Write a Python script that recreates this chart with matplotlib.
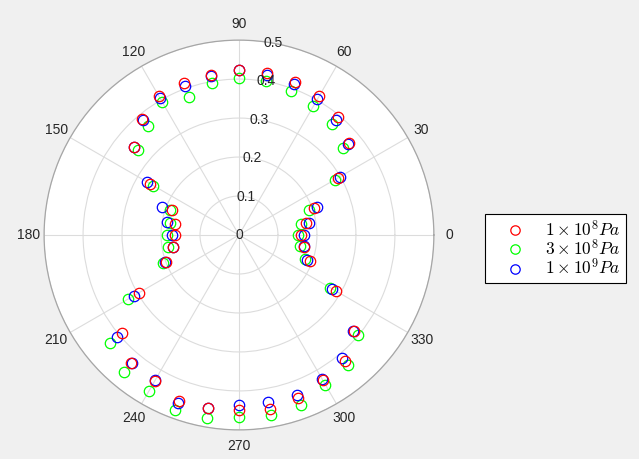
import numpy as np
import matplotlib
matplotlib.use('Agg')
import matplotlib.pyplot as plt

plt.rcParams['font.family'] = ['Liberation Sans', 'DejaVu Sans']
plt.rcParams['mathtext.fontset'] = 'cm'

angles_deg = list(range(0, 360, 10))

r_1e8 = [0.158, 0.174, 0.204, 0.293, 0.368, 0.395, 0.413, 0.418, 0.421, 0.423,
         0.417, 0.415, 0.411, 0.388, 0.353, 0.264, 0.184, 0.166, 0.164, 0.171,
         0.200, 0.297, 0.393, 0.429, 0.432, 0.452, 0.451, 0.449, 0.454, 0.445,
         0.429, 0.422, 0.384, 0.286, 0.195, 0.170]
r_3e8 = [0.151, 0.161, 0.191, 0.283, 0.348, 0.371, 0.381, 0.392, 0.400, 0.402,
         0.395, 0.378, 0.395, 0.364, 0.339, 0.254, 0.188, 0.179, 0.185, 0.184,
         0.207, 0.329, 0.432, 0.460, 0.461, 0.479, 0.477, 0.467, 0.470, 0.463,
         0.443, 0.437, 0.399, 0.271, 0.181, 0.160]
r_1e9 = [0.167, 0.183, 0.213, 0.299, 0.365, 0.386, 0.402, 0.411, 0.418, 0.423,
         0.414, 0.406, 0.405, 0.385, 0.350, 0.273, 0.210, 0.188, 0.173, 0.172,
         0.203, 0.312, 0.409, 0.428, 0.430, 0.459, 0.451, 0.436, 0.434, 0.437,
         0.426, 0.413, 0.383, 0.275, 0.187, 0.169]

labels = [r'$1\times10^{8}Pa$', r'$3\times10^{8}Pa$', r'$1\times10^{9}Pa$']
colors = ['#ff0000', '#00ff00', '#0000ff']
theta_ticks = list(range(0, 360, 30))
r_ticks = [0, 0.1, 0.2, 0.3, 0.4, 0.5]
r_tick_labels = ['0', '0.1', '0.2', '0.3', '0.4', '0.5']

theta = np.deg2rad(angles_deg)

fig = plt.figure(figsize=(6.39, 4.59), dpi=100)
fig.patch.set_facecolor('#f0f0f0')
ax = fig.add_axes([0.069, 0.063, 0.610, 0.850], projection='polar')
ax.set_facecolor('white')

handles = []
zs = [4, 2, 3]
for r, c, lab, z in zip([r_1e8, r_3e8, r_1e9], colors, labels, zs):
    h, = ax.plot(theta, r, 'o', mfc='none', mec=c, ms=7.5, mew=0.9,
                 linestyle='none', label=lab, zorder=z)
    handles.append(h)

ax.set_ylim(0, 0.5)
ax.set_rticks(r_ticks)
ax.set_yticklabels([])
# radial labels drawn at 80 deg, centred on the ring like MATLAB
for rv, txt in zip(r_ticks, r_tick_labels):
    ax.text(np.deg2rad(80), rv, txt, ha='center', va='center',
            fontsize=10, color='#262626', zorder=5)
ax.set_thetagrids(theta_ticks, [str(t) for t in theta_ticks])
ax.tick_params(axis='x', pad=1, labelsize=10, colors='#262626')
ax.grid(True, color='#dcdcdc', linewidth=0.8)
ax.spines['polar'].set_color('#a6a6a6')
ax.spines['polar'].set_linewidth(0.9)

leg = fig.legend(handles=handles, loc='center left',
                 bbox_to_anchor=(0.759, 0.459), fontsize=12.5,
                 fancybox=False, edgecolor='black', framealpha=1,
                 handletextpad=0.3, borderpad=0.3, labelspacing=-0.05,
                 handlelength=2.88, borderaxespad=0, markerscale=0.9)
leg.get_frame().set_linewidth(0.8)

fig.savefig('out.png', dpi=100, facecolor=fig.get_facecolor())
